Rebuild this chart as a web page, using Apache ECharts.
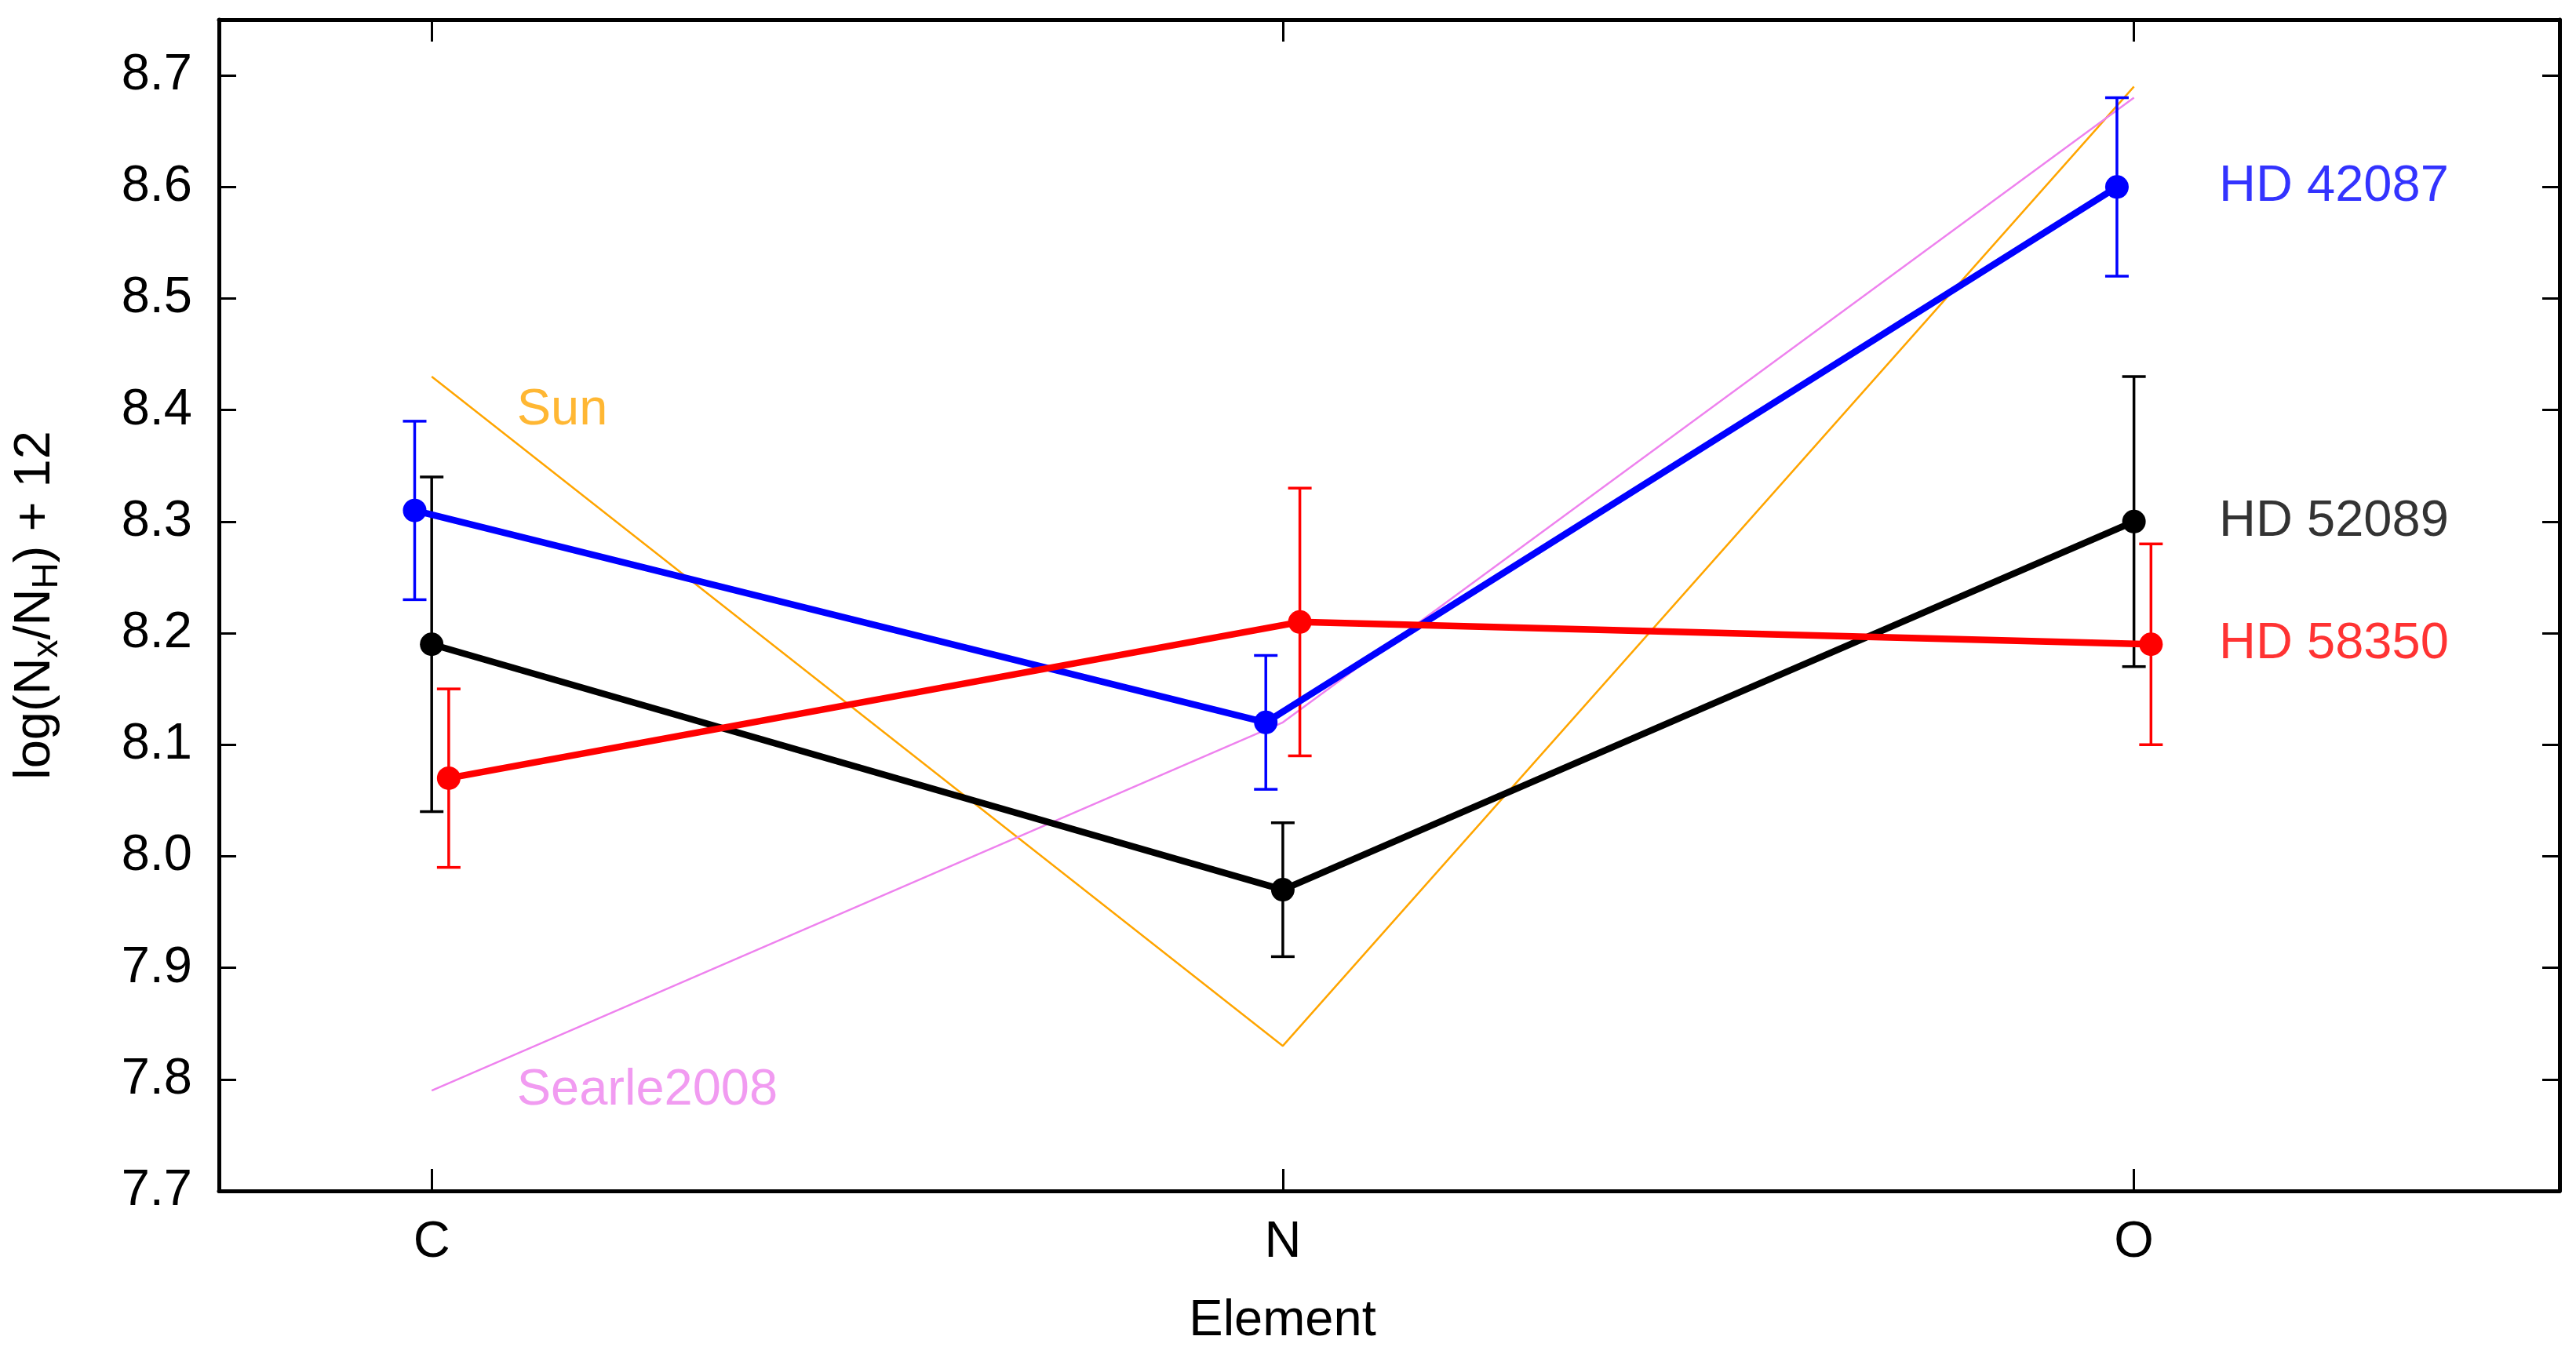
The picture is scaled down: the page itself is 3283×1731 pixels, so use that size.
<!DOCTYPE html>
<html>
<head>
<meta charset="utf-8">
<script src="https://cdn.jsdelivr.net/npm/echarts@6/dist/echarts.min.js"></script>
<style>
html,body{margin:0;padding:0;background:#fff;}
#chart{width:3283px;height:1731px;}
</style>
</head>
<body>
<div id="chart"></div>
<script>
// ---- data ----
const categories = ['C', 'N', 'O'];
const xPositions = [0, 1, 2];
const yTicks = [7.7, 7.8, 7.9, 8.0, 8.1, 8.2, 8.3, 8.4, 8.5, 8.6, 8.7];

const hd42087 = [8.31, 8.12, 8.60];
const hd42087Lo = [8.23, 8.06, 8.52];
const hd42087Hi = [8.39, 8.18, 8.68];

const hd52089 = [8.19, 7.97, 8.30];
const hd52089Lo = [8.04, 7.91, 8.17];
const hd52089Hi = [8.34, 8.03, 8.43];

const hd58350 = [8.07, 8.21, 8.19];
const hd58350Lo = [7.99, 8.09, 8.10];
const hd58350Hi = [8.15, 8.33, 8.28];

const sun = [8.43, 7.83, 8.69];
const searle2008 = [7.79, 8.12, 8.68];

// horizontal shift of each star on the element axis
const shift42087 = -0.02, shift52089 = 0, shift58350 = 0.02;

// text labels anchored in data coordinates
const labelItems = [
  {name: 'HD 42087', value: [2.1, 8.60], color: '#0000ff'},
  {name: 'HD 52089', value: [2.1, 8.30], color: '#000000'},
  {name: 'HD 58350', value: [2.1, 8.19], color: '#ff0000'},
  {name: 'Sun', value: [0.1, 8.40], color: '#ffa500'},
  {name: 'Searle2008', value: [0.1, 7.79], color: '#ee82ee'}
];

// ---- build ----
const FONT = 'Liberation Sans, Arial, Helvetica, sans-serif';
const FS = 65;

function pts(vals, shift) {
  return vals.map((v, i) => [xPositions[i] + shift, v]);
}
function errs(lo, hi, shift) {
  return lo.map((l, i) => [xPositions[i] + shift, l, hi[i]]);
}

function errorSeries(data, color) {
  return {
    type: 'custom',
    data: data,
    z: 3,
    renderItem: function (params, api) {
      const x = api.value(0);
      const p1 = api.coord([x, api.value(1)]);
      const p2 = api.coord([x, api.value(2)]);
      const hw = 15;
      const st = {stroke: color, lineWidth: 3.5};
      return {
        type: 'group',
        children: [
          {type: 'line', shape: {x1: p1[0], y1: p1[1], x2: p2[0], y2: p2[1]}, style: st},
          {type: 'line', shape: {x1: p1[0] - hw, y1: p1[1], x2: p1[0] + hw, y2: p1[1]}, style: st},
          {type: 'line', shape: {x1: p2[0] - hw, y1: p2[1], x2: p2[0] + hw, y2: p2[1]}, style: st}
        ]
      };
    }
  };
}

function starSeries(data, color) {
  return {
    type: 'line',
    data: data,
    symbol: 'circle',
    symbolSize: 30,
    showSymbol: true,
    z: 4,
    lineStyle: {color: color, width: 8.5},
    itemStyle: {color: color},
    emphasis: {disabled: true}
  };
}

function refSeries(data, color) {
  return {
    type: 'line',
    data: data,
    symbol: 'none',
    z: 2,
    lineStyle: {color: color, width: 2.5},
    emphasis: {disabled: true}
  };
}

const xCommon = {
  type: 'value', min: -0.25, max: 2.5,
  splitLine: {show: false},
  axisLine: {show: true, onZero: false, lineStyle: {color: '#000', width: 5}},
  axisTick: {show: true, inside: true, length: 28, customValues: xPositions, lineStyle: {color: '#000', width: 3}}
};
const yCommon = {
  type: 'value', min: 7.7, max: 8.75,
  splitLine: {show: false},
  axisLine: {show: true, onZero: false, lineStyle: {color: '#000', width: 5}},
  axisTick: {show: true, inside: true, length: 22, customValues: yTicks, lineStyle: {color: '#000', width: 3}}
};

const option = {
  backgroundColor: '#fff',
  animation: false,
  grid: {left: 279, right: 21, top: 25, bottom: 213, containLabel: false},
  xAxis: [
    Object.assign({}, xCommon, {
      position: 'bottom',
      axisLabel: {show: true, customValues: xPositions, formatter: v => categories[Math.round(v)],
        fontSize: FS, fontFamily: FONT, color: '#000', margin: 34},
      name: 'Element', nameLocation: 'middle', nameGap: 134,
      nameTextStyle: {fontSize: FS, fontFamily: FONT, color: '#000', padding: [0, 272, 0, 0]}
    }),
    Object.assign({}, xCommon, {position: 'top', axisLabel: {show: false}})
  ],
  yAxis: [
    Object.assign({}, yCommon, {
      position: 'left',
      axisLabel: {show: true, customValues: yTicks, formatter: v => Number(v).toFixed(1),
        fontSize: FS, fontFamily: FONT, color: '#000', margin: 34},
      name: '{m|log(N}{s|x}{m|/N}{s|H}{m|) + 12}', nameLocation: 'middle', nameGap: 196,
      nameTextStyle: {
        fontSize: FS, fontFamily: FONT, color: '#000',
        rich: {
          m: {fontSize: FS, fontFamily: FONT, color: '#000'},
          s: {fontSize: 46, fontFamily: FONT, color: '#000', padding: [30, 0, 0, 0]}
        }
      }
    }),
    Object.assign({}, yCommon, {position: 'right', axisLabel: {show: false}})
  ],
  series: [
    refSeries(pts(sun, 0), '#ffa500'),
    refSeries(pts(searle2008, 0), '#ee82ee'),
    errorSeries(errs(hd42087Lo, hd42087Hi, shift42087), '#0000ff'),
    errorSeries(errs(hd52089Lo, hd52089Hi, shift52089), '#000000'),
    errorSeries(errs(hd58350Lo, hd58350Hi, shift58350), '#ff0000'),
    starSeries(pts(hd42087, shift42087), '#0000ff'),
    starSeries(pts(hd52089, shift52089), '#000000'),
    starSeries(pts(hd58350, shift58350), '#ff0000'),
    {
      type: 'scatter',
      symbolSize: 0,
      z: 5,
      data: labelItems.map(d => ({
        name: d.name, value: d.value,
        label: {show: true, position: 'right', distance: 0, formatter: '{b}',
          color: d.color, fontSize: FS, fontFamily: FONT}
      })),
      emphasis: {disabled: true}
    }
  ]
};

const chart = echarts.init(document.getElementById('chart'), null, {renderer: 'canvas'});
chart.setOption(option);
</script>
</body>
</html>
